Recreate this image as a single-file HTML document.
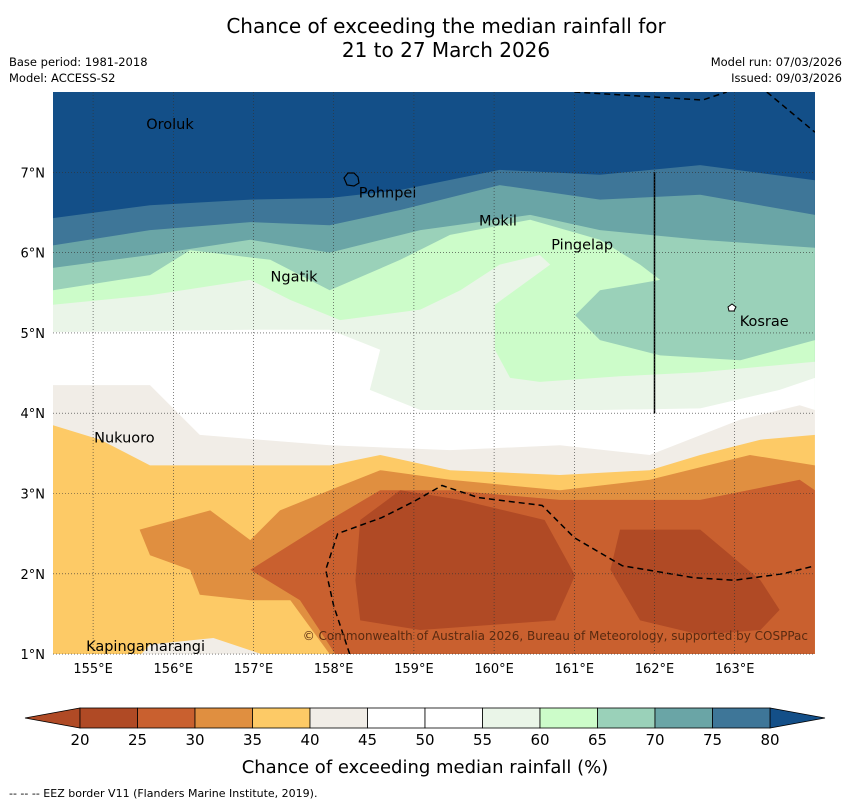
<!DOCTYPE html>
<html><head><meta charset="utf-8"><style>
body{margin:0;background:#fff;font-family:"Liberation Sans",sans-serif}
svg text{font-family:"DejaVu Sans","Liberation Sans",sans-serif}
</style></head><body>
<svg id="s" width="850" height="804" viewBox="0 0 850 804">
<rect width="850" height="804" fill="#fff"/>
<text x="446" y="33" font-size="20" text-anchor="middle">Chance of exceeding the median rainfall for</text>
<text x="446" y="57" font-size="20" text-anchor="middle">21 to 27 March 2026</text>
<text x="9" y="66" font-size="11.5">Base period: 1981-2018</text>
<text x="9" y="82" font-size="11.5">Model: ACCESS-S2</text>
<text x="842" y="66" font-size="11.5" text-anchor="end">Model run: 07/03/2026</text>
<text x="842" y="82" font-size="11.5" text-anchor="end">Issued: 09/03/2026</text>
<defs><clipPath id="mc"><rect x="53" y="92" width="762" height="562"/></clipPath></defs>
<g id="map" clip-path="url(#mc)"></g>
<g id="grid"></g>
<g id="ticks"></g>
<g id="cbar"></g>
<text x="425" y="773" font-size="18" text-anchor="middle">Chance of exceeding median rainfall (%)</text>
<text x="9" y="797" font-size="11">--  --  -- EEZ border V11 (Flanders Marine Institute, 2019).</text>
</svg>
<script>
const NS="http://www.w3.org/2000/svg";
const lonTicks=[155,156,157,158,159,160,161,162,163];
const latTicks=[1,2,3,4,5,6,7];
const levels=[20,25,30,35,40,45,50,55,60,65,70,75,80];
const bandColors=["#b04a25","#c9602f","#e08f40","#fdca66","#f1ede7","#ffffff","#ffffff","#eaf5e8","#ccfcc9","#9ad1b9","#6aa5a6","#3e7698"];
const underColor="#b04a25", overColor="#134f88";
const L80=[[154.5,6.43],[155.71,6.59],[156.96,6.66],[157.95,6.68],[158.83,6.78],[160.07,7.03],[161.32,6.97],[162.57,7.09],[164,6.9]];
const L75=[[154.5,6.09],[155.71,6.28],[156.96,6.38],[157.95,6.34],[158.83,6.53],[160.07,6.84],[161.32,6.66],[162.57,6.72],[164,6.47]];
const L70=[[154.5,5.81],[155.71,5.97],[156.96,6.16],[157.95,6.0],[159.08,6.28],[160.45,6.47],[161.32,6.28],[162.57,6.16],[164,6.06]];
const L65=[[154.5,5.53],[155.71,5.72],[156.21,6.03],[157.21,5.91],[157.95,5.53],[158.83,5.91],[159.45,6.22],[160.45,6.41],[161.32,6.16],[161.82,5.85],[162.07,5.66],[161.32,5.53],[161.01,5.22],[161.32,4.91],[162.07,4.72],[163.07,4.66],[164,4.91]];
const L60=[[154.5,5.35],[155.71,5.47],[156.96,5.66],[157.46,5.41],[158.08,5.16],[159.08,5.29],[159.58,5.53],[160.07,5.85],[160.57,5.97],[160.7,5.85],[160.01,5.35],[160.01,4.79],[160.2,4.44],[160.57,4.39],[161.57,4.46],[162.57,4.51],[164,4.64]];
const L55=[[154.5,5.01],[156.96,5.04],[157.95,5.04],[158.58,4.79],[158.45,4.29],[159.08,4.04],[161.32,4.04],[162.57,4.06],[163.56,4.29],[164,4.44]];
const L45=[[154.5,4.35],[155.71,4.35],[156.33,3.73],[157.95,3.6],[159.45,3.54],[160.82,3.6],[161.94,3.48],[163.07,3.92],[163.81,4.1],[164,4.04]];
const L40=[[154.5,3.85],[155.09,3.67],[155.71,3.35],[157.95,3.35],[158.58,3.48],[159.45,3.29],[160.82,3.23],[161.94,3.29],[162.57,3.48],[163.32,3.67],[164,3.73]];
const P30=[[155.58,2.55],[156.46,2.79],[156.96,2.42],[157.33,2.79],[157.95,3.04],[158.58,3.29],[159.45,3.17],[160.82,3.04],[161.94,3.17],[163.19,3.48],[164,3.35],[164,1],[157.95,1],[157.46,1.67],[156.96,1.67],[156.33,1.74],[156.21,2.05],[155.71,2.23]];
const P25=[[156.96,2.05],[157.95,2.67],[158.58,3.04],[159.45,3.04],[160.82,2.92],[162.57,2.92],[163.81,3.17],[164,3.04],[164,1],[158.02,1],[157.58,1.67]];
const P20a=[[158.33,2.67],[158.83,3.04],[159.58,2.92],[160.63,2.67],[161.01,1.98],[160.76,1.42],[159.08,1.3],[158.33,1.42],[158.27,1.92]];
const P20b=[[161.57,2.55],[162.57,2.55],[163.32,1.92],[163.56,1.55],[163.32,1.3],[162.57,1.24],[161.82,1.42],[161.45,2.05]];
const Pgrey=[[155.6,1.0],[155.71,1.12],[156.5,1.2],[157.1,1.0]];
const eezA=[[158.2,1],[158.0,1.6],[157.9,2.05],[158.05,2.5],[158.6,2.7],[159.0,2.9],[159.35,3.1],[159.8,2.95],[160.6,2.85],[161.0,2.45],[161.6,2.1],[162.5,1.95],[163.0,1.92],[163.6,2.0],[164,2.1]];
const eezB=[[161.0,8.0],[162.6,7.9],[162.9,8.0]];
const eezC=[[163.4,8.0],[164,7.5]];
const vline=[[162,7],[162,4]];
const places=[["Oroluk",155.65,7.6],["Pohnpei",158.3,6.75],["Mokil",159.8,6.4],["Pingelap",160.7,6.1],["Ngatik",157.2,5.7],["Kosrae",163.05,5.15],["Nukuoro",155.0,3.7],["Kapingamarangi",154.9,1.1]];
const x=l=>53+(l-154.5)*80.2, y=a=>92+(8-a)*80.3;
function mk(t,a,p){const e=document.createElementNS(NS,t);for(const k in a)e.setAttribute(k,a[k]);(p||document.getElementById('s')).appendChild(e);return e;}
const map=document.getElementById('map');
const pts=a=>a.map(p=>x(p[0]).toFixed(1)+','+y(p[1]).toFixed(1)).join(' ');
const below=a=>pts(a)+' '+x(164)+','+y(1)+' '+x(154.5)+','+y(1);
let r=mk('rect',{x:53,y:92,width:762,height:562,fill:overColor},map);


const layers=[[L80,11],[L75,10],[L70,9],[L65,8],[L60,7],[L55,6],[L45,4],[L40,3]];
layers.forEach(([L,ci])=>{const e=mk('polygon',{points:below(L),fill:bandColors[ci]},map);

});
[[Pgrey,4],[P30,2],[P25,1],[P20a,0],[P20b,0]].forEach(([P,ci])=>{const e=mk('polygon',{points:pts(P),fill:bandColors[ci]},map);

});
[eezA,eezB,eezC].forEach(E=>{const e=mk('polyline',{points:pts(E),fill:'none',stroke:'#000','stroke-width':1.5,'stroke-dasharray':'6,4'},map);

});
let v=mk('polyline',{points:pts(vline),stroke:'#000','stroke-width':1.5,fill:'none'},map);


places.forEach(p=>{const t=mk('text',{x:x(p[1])+1,y:y(p[2])+5,'font-size':14.5},map);t.textContent=p[0];

});
let c1=mk('path',{d:'M344,178 l4,-5 l6,0 l4,4 l1,6 l-5,3 l-7,-1 z',fill:'none',stroke:'#000','stroke-width':1.2},map);


let c2=mk('path',{d:'M728,307 l4,-3 l4,3 l-2,4 l-5,0 z',fill:'#fff',stroke:'#000','stroke-width':1},map);


let cp=mk('text',{x:808,y:640,'font-size':12,'text-anchor':'end',fill:'#5a2a10'},map);
cp.textContent='© Commonwealth of Australia 2026, Bureau of Meteorology, supported by COSPPac';


const g=document.getElementById('grid'), tk=document.getElementById('ticks');
lonTicks.forEach(l=>{const e=mk('line',{x1:x(l),x2:x(l),y1:92,y2:654,stroke:'#333','stroke-width':0.6,'stroke-dasharray':'1,2'},g);


const t=mk('text',{x:x(l),y:673,'font-size':13,'text-anchor':'middle'},tk);t.textContent=l+'°E';

});
latTicks.forEach(a=>{const e=mk('line',{x1:53,x2:815,y1:y(a),y2:y(a),stroke:'#333','stroke-width':0.6,'stroke-dasharray':'1,2'},g);


const t=mk('text',{x:45,y:y(a)+5,'font-size':13,'text-anchor':'end'},tk);t.textContent=a+'°N';

});
const cb=document.getElementById('cbar');
const cx=v=>80+(v-20)*(690/60);
let tu=mk('polygon',{points:`25,718 ${cx(20)},708 ${cx(20)},728`,fill:underColor,stroke:'#000','stroke-width':0.8},cb);


let to=mk('polygon',{points:`825,718 ${cx(80)},708 ${cx(80)},728`,fill:overColor,stroke:'#000','stroke-width':0.8},cb);


bandColors.forEach((c,i)=>{const e=mk('rect',{x:cx(levels[i]),y:708,width:cx(levels[i+1])-cx(levels[i]),height:20,fill:c,stroke:'#000','stroke-width':0.8},cb);

});
levels.forEach(l=>{const t=mk('text',{x:cx(l),y:745,'font-size':15,'text-anchor':'middle'},cb);t.textContent=l;

});
</script>
</body></html>
